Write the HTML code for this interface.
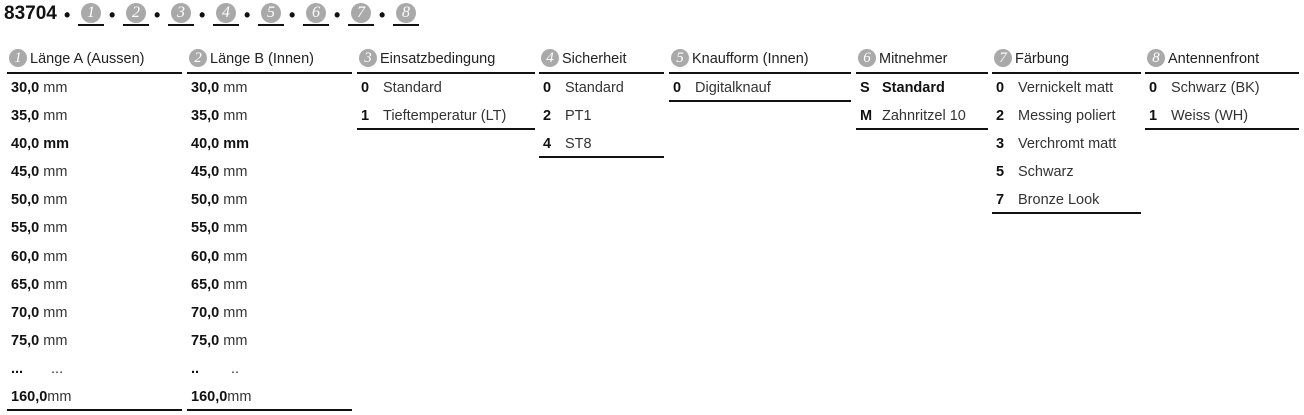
<!DOCTYPE html>
<html><head><meta charset="utf-8"><style>
*{margin:0;padding:0;box-sizing:border-box}
body{width:1304px;height:415px;background:#fff;font-family:"Liberation Sans",sans-serif;color:#111;position:relative;overflow:hidden}
.t{position:absolute;top:2px;left:4px;height:24px;font-size:19px;line-height:24px;font-weight:bold;white-space:nowrap}
.c{display:inline-block;width:18px;height:18px;border-radius:50%;background:#a9a9a9;color:#fff;font-family:"Liberation Serif",serif;font-style:italic;font-size:15px;line-height:18px;text-align:center;font-weight:normal;vertical-align:middle}
.tc{position:absolute;top:3px;width:20px;height:20px;line-height:20px;font-size:16px}
.u{position:absolute;top:24px;height:2px;width:26px;background:#111}
.b{position:absolute;top:3px;font-size:18px;line-height:24px;font-weight:bold}
.col{position:absolute;top:48px}
.h{height:26px;font-size:14.5px;line-height:22px;color:#222;border-bottom:2px solid #111;white-space:nowrap;padding-left:2px}
.h .c{margin-right:3px;margin-top:-3px}
.r{height:28.1px;line-height:28px;font-size:14.5px;white-space:nowrap;padding-left:4px;color:#333}
.r b{color:#111;display:inline-block}
.k b{width:22px}
.last{border-bottom:2px solid #111}
</style></head><body>
<div class="t">83704</div>
<div class="b" style="left:64px">•</div>
<div class="b" style="left:109px">•</div>
<div class="b" style="left:154px">•</div>
<div class="b" style="left:199px">•</div>
<div class="b" style="left:244px">•</div>
<div class="b" style="left:289px">•</div>
<div class="b" style="left:334px">•</div>
<div class="b" style="left:379px">•</div>
<span class="c tc" style="left:81px">1</span><div class="u" style="left:78px"></div>
<span class="c tc" style="left:126px">2</span><div class="u" style="left:123px"></div>
<span class="c tc" style="left:171px">3</span><div class="u" style="left:168px"></div>
<span class="c tc" style="left:216px">4</span><div class="u" style="left:213px"></div>
<span class="c tc" style="left:261px">5</span><div class="u" style="left:258px"></div>
<span class="c tc" style="left:306px">6</span><div class="u" style="left:303px"></div>
<span class="c tc" style="left:351px">7</span><div class="u" style="left:348px"></div>
<span class="c tc" style="left:396px">8</span><div class="u" style="left:393px"></div>

<div class="col" style="left:7px;width:175px">
<div class="h"><span class="c">1</span>Länge A (Aussen)</div>
<div class="r"><b>30,0</b> mm</div><div class="r"><b>35,0</b> mm</div><div class="r"><b>40,0 mm</b></div><div class="r"><b>45,0</b> mm</div><div class="r"><b>50,0</b> mm</div><div class="r"><b>55,0</b> mm</div><div class="r"><b>60,0</b> mm</div><div class="r"><b>65,0</b> mm</div><div class="r"><b>70,0</b> mm</div><div class="r"><b>75,0</b> mm</div><div class="r"><b style="width:36px">...</b> ...</div><div class="r last"><b>160,0</b>mm</div>
</div>
<div class="col" style="left:187px;width:165px">
<div class="h"><span class="c">2</span>Länge B (Innen)</div>
<div class="r"><b>30,0</b> mm</div><div class="r"><b>35,0</b> mm</div><div class="r"><b>40,0 mm</b></div><div class="r"><b>45,0</b> mm</div><div class="r"><b>50,0</b> mm</div><div class="r"><b>55,0</b> mm</div><div class="r"><b>60,0</b> mm</div><div class="r"><b>65,0</b> mm</div><div class="r"><b>70,0</b> mm</div><div class="r"><b>75,0</b> mm</div><div class="r"><b style="width:36px">..</b> ..</div><div class="r last"><b>160,0</b>mm</div>
</div>
<div class="col k" style="left:357px;width:178px">
<div class="h"><span class="c">3</span>Einsatzbedingung</div>
<div class="r"><b>0</b>Standard</div><div class="r last"><b>1</b>Tieftemperatur (LT)</div>
</div>
<div class="col k" style="left:539px;width:125px">
<div class="h"><span class="c">4</span>Sicherheit</div>
<div class="r"><b>0</b>Standard</div><div class="r"><b>2</b>PT1</div><div class="r last"><b>4</b>ST8</div>
</div>
<div class="col k" style="left:669px;width:182px">
<div class="h"><span class="c">5</span>Knaufform (Innen)</div>
<div class="r last"><b>0</b>Digitalknauf</div>
</div>
<div class="col k" style="left:856px;width:132px">
<div class="h"><span class="c">6</span>Mitnehmer</div>
<div class="r"><b>S</b><b>Standard</b></div><div class="r last"><b>M</b>Zahnritzel 10</div>
</div>
<div class="col k" style="left:992px;width:149px">
<div class="h"><span class="c">7</span>Färbung</div>
<div class="r"><b>0</b>Vernickelt matt</div><div class="r"><b>2</b>Messing poliert</div><div class="r"><b>3</b>Verchromt matt</div><div class="r"><b>5</b>Schwarz</div><div class="r last"><b>7</b>Bronze Look</div>
</div>
<div class="col k" style="left:1145px;width:154px">
<div class="h"><span class="c">8</span>Antennenfront</div>
<div class="r"><b>0</b>Schwarz (BK)</div><div class="r last"><b>1</b>Weiss (WH)</div>
</div>
</body></html>
